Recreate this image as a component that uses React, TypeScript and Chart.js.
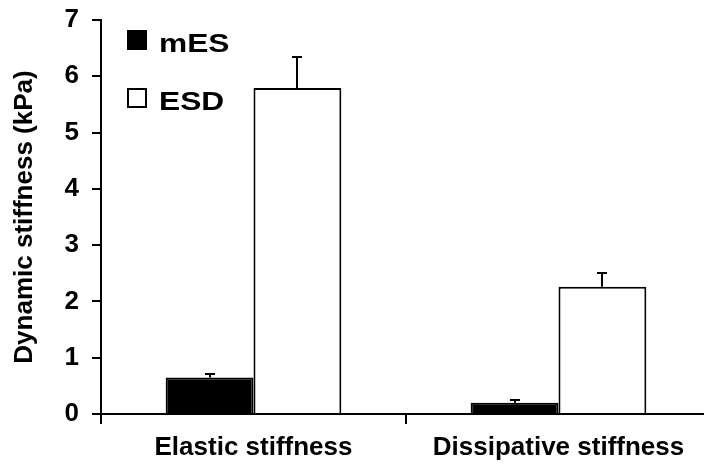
import React, { useEffect, useRef } from "react";
import { Chart, registerables } from "chart.js";

Chart.register(...registerables);

const categories = ["Elastic stiffness", "Dissipative stiffness"];
const seriesNames = ["mES", "ESD"];
const mESValues = [0.65, 0.2];
const mESErrors = [0.06, 0.04];
const ESDValues = [5.79, 2.26];
const ESDErrors = [0.56, 0.25];
const yTicks = [0, 1, 2, 3, 4, 5, 6, 7];
const yTitle = "Dynamic stiffness (kPa)";

const FONT = "'Liberation Sans', Arial, Helvetica, sans-serif";
const errorsBySeries = [mESErrors, ESDErrors];

const errorBarPlugin = {
  id: "errorBars",
  afterDatasetsDraw(chart: any) {
    const ctx = chart.ctx;
    const y = chart.scales.y;
    chart.data.datasets.forEach((ds: any, i: number) => {
      const meta = chart.getDatasetMeta(i);
      const errs = errorsBySeries[i];
      meta.data.forEach((bar: any, j: number) => {
        const v = ds.data[j];
        const top = Math.round(y.getPixelForValue(v + errs[j]));
        const base = bar.y;
        const x = Math.round(bar.x);
        ctx.save();
        ctx.strokeStyle = "#000";
        ctx.lineWidth = 2;
        ctx.beginPath();
        ctx.moveTo(x, base);
        ctx.lineTo(x, top);
        ctx.moveTo(x - 5, top);
        ctx.lineTo(x + 5, top);
        ctx.stroke();
        ctx.restore();
      });
    });
  },
};

const legendPlugin = {
  id: "customLegend",
  afterDraw(chart: any) {
    const ctx = chart.ctx;
    const left = chart.chartArea.left;
    const top = chart.chartArea.top;
    chart.data.datasets.forEach((ds: any, i: number) => {
      const by = top + 10 + i * 58;
      const bx = left + 26;
      ctx.save();
      ctx.fillStyle = ds.backgroundColor;
      ctx.fillRect(bx, by, 20, 20);
      ctx.strokeStyle = "#000";
      ctx.lineWidth = 2;
      ctx.strokeRect(bx + 1, by + 1, 18, 18);
      ctx.fillStyle = "#000";
      ctx.font = `bold 26px ${FONT}`;
      ctx.textBaseline = "alphabetic";
      ctx.textAlign = "left";
      ctx.translate(bx + 32, by + 21.5);
      ctx.scale(1.22, 1);
      ctx.fillText(ds.label, 0, 0);
      ctx.restore();
    });
  },
};

export default function App() {
  const ref = useRef<HTMLCanvasElement>(null);
  useEffect(() => {
    if (!ref.current) return;
    const chart = new Chart(ref.current, {
      type: "bar",
      data: {
        labels: categories,
        datasets: [
          {
            label: seriesNames[0],
            data: mESValues,
            backgroundColor: "#000000",
            borderColor: "#000000",
            borderWidth: 2,
            categoryPercentage: 0.576,
            barPercentage: 1,
          },
          {
            label: seriesNames[1],
            data: ESDValues,
            backgroundColor: "#ffffff",
            borderColor: "#000000",
            borderWidth: 2,
            categoryPercentage: 0.576,
            barPercentage: 1,
          },
        ],
      },
      options: {
        animation: false,
        responsive: false,
        layout: { padding: { top: 20, right: 9, bottom: 0, left: 0 } },
        plugins: {
          legend: { display: false },
          tooltip: { enabled: false },
          title: { display: false },
        },
        scales: {
          x: {
            afterFit: (s: any) => {
              s.height = 52;
              s.paddingLeft = 0;
              s.paddingRight = 0;
            },
            grid: {
              display: true,
              drawOnChartArea: false,
              drawTicks: true,
              tickLength: 10,
              color: "#000",
              lineWidth: 2,
              offset: true,
            },
            border: { display: true, color: "#000", width: 2 },
            ticks: {
              color: "#000",
              font: { family: FONT, size: 26, weight: "bold" },
              padding: 8,
              maxRotation: 0,
              autoSkip: false,
            },
          },
          y: {
            min: 0,
            max: 7,
            afterFit: (s: any) => {
              s.width = 101;
              s.paddingTop = 0;
              s.paddingBottom = 0;
            },
            afterBuildTicks: (s: any) => {
              s.ticks = yTicks.map((v) => ({ value: v }));
            },
            grid: {
              display: true,
              drawOnChartArea: false,
              drawTicks: true,
              tickLength: 9,
              color: "#000",
              lineWidth: 2,
            },
            border: { display: true, color: "#000", width: 2 },
            ticks: {
              color: "#000",
              font: { family: FONT, size: 26, weight: "bold" },
              padding: 13,
            },
            title: {
              display: true,
              text: yTitle,
              color: "#000",
              font: { family: FONT, size: 26, weight: "bold" },
              padding: { top: 9, bottom: 0 },
            },
          },
        },
      },
      plugins: [errorBarPlugin, legendPlugin],
    });
    return () => chart.destroy();
  }, []);
  return (
    <div style={{ position: "fixed", left: 0, top: 0, width: 720, height: 466, background: "#fff" }}>
      <canvas ref={ref} width={720} height={466} style={{ display: "block" }} />
    </div>
  );
}
